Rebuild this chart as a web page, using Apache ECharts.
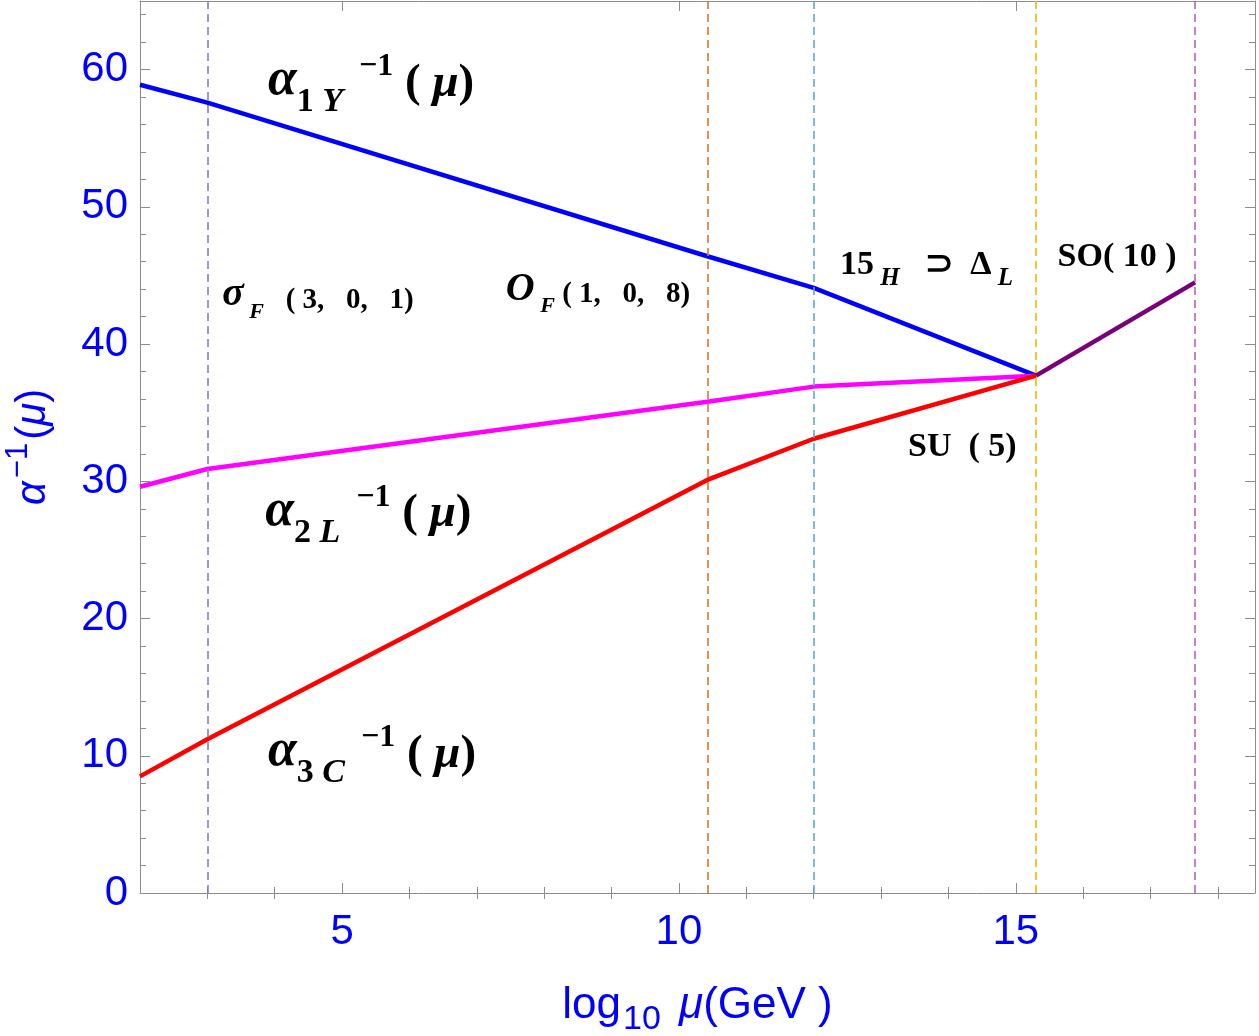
<!DOCTYPE html>
<html>
<head>
<meta charset="utf-8">
<script src="https://cdn.jsdelivr.net/npm/echarts@6/dist/echarts.min.js"></script>
<style>
  html, body { margin: 0; padding: 0; background: #fff; }
  #chart { width: 1259px; height: 1036px; }
</style>
</head>
<body>
<div id="chart"></div>
<script>
// log10(mu) break points where the running changes
const muBreaks = [2, 3, 10.42, 12, 15.3]
const alpha1Y = [58.9, 57.6, 46.4, 44.1, 37.7]
const alpha2L = [29.6, 30.9, 35.8, 36.9, 37.7]
const alpha3C = [8.5, 11.2, 30.1, 33.1, 37.7]
const so10Mu = [15.3, 17.66]
const so10 = [37.7, 44.5]
// intermediate scales (dashed lines)
const thresholds = [3, 10.42, 12, 15.3, 17.66]
const thresholdColors = ['#8a7cc0', '#d9772a', '#5fa8dc', '#f5b400', '#b665b6']

const xMajor = [5, 10, 15]
const xMinor = [3, 4, 6, 7, 8, 9, 11, 12, 13, 14, 16, 17, 18]
const yMajor = [0, 10, 20, 30, 40, 50, 60]
const yMinor = [2, 4, 6, 8, 12, 14, 16, 18, 22, 24, 26, 28, 32, 34, 36, 38, 42, 44, 46, 48, 52, 54, 56, 58, 62, 64]

const annotations = [
    { text: '{a|α}{sn|1}{si| Y}{sup|  −1}{p| (}{mu| μ}{p|)}', at: [3.9, 58.3] },
    { text: '{a|α}{sn|2}{si| L}{sup|  −1}{p| (}{mu| μ}{p|)}', at: [3.86, 26.9] },
    { text: '{a|α}{sn|3}{si| C}{sup|  −1}{p| (}{mu| μ}{p|)}', at: [3.9, 9.4] },
    { text: '{sa|σ}{ssi| F}{sp|   ( 3,   0,   1)}', at: [3.22, 43.0] },
    { text: '{sa|O}{ssi| F}{sp| ( 1,   0,   8)}', at: [7.43, 43.4] },
    { text: '{mp|15}{msi| H}{mp|   ⊃  Δ}{msi| L}', at: [12.39, 45.1] },
    { text: '{mp|SO( 10 )}', at: [15.62, 45.7] },
    { text: '{mp|SU  ( 5)}', at: [13.4, 31.8] }
]

const pair = (xs, ys) => xs.map((x, i) => [x, ys[i]])

const serif = 'Liberation Serif'
const sans = 'Liberation Sans'
const blue = '#0000ff'
const frame = '#8c8c8c'

function tok(size, pad, italic) {
    return {
        fontFamily: serif, fontSize: size, fontWeight: 'bold', fontStyle: italic ? 'italic' : 'normal',
        color: '#000', lineHeight: size, padding: [0, 0, pad, 0], verticalAlign: 'bottom'
    }
}

const richLabels = {
    a: tok(52, 12, true),
    p: tok(47, 12, false),
    mu: tok(47, 12, true),
    sn: tok(34, 0, false),
    si: tok(34, 0, true),
    sup: tok(32, 36, false),
    sa: tok(40, 8, true),
    sp: tok(29, 8, false),
    ssi: tok(22, 0, true),
    mp: tok(34, 9, false),
    msi: tok(25, 0, true)
}

const xMin = 2, xMax = 18.55, yMin = 0, yMax = 65

function xAxisOf(pos, ticks, len, opts) {
    return Object.assign({
        type: 'value', position: pos, min: xMin, max: xMax,
        axisLine: { show: false },
        axisTick: { show: true, inside: true, length: len, customValues: ticks, lineStyle: { color: frame, width: 1 } },
        axisLabel: { show: false },
        splitLine: { show: false }
    }, opts || {})
}
function yAxisOf(pos, ticks, len, opts) {
    return Object.assign({
        type: 'value', position: pos, min: yMin, max: yMax,
        axisLine: { show: false },
        axisTick: { show: true, inside: true, length: len, customValues: ticks, lineStyle: { color: frame, width: 1 } },
        axisLabel: { show: false },
        splitLine: { show: false }
    }, opts || {})
}

const chart = echarts.init(document.getElementById('chart'))

const option = {
    animation: false,
    backgroundColor: '#fff',
    grid: { left: 140, right: 4, top: 1, bottom: 143, containLabel: false, outerBoundsMode: 'none' },
    xAxis: [
        xAxisOf('bottom', xMajor, 10, {
            axisLine: { show: true, onZero: false, lineStyle: { color: frame, width: 1 } },
            axisLabel: { show: true, customValues: xMajor, color: blue, fontFamily: sans, fontSize: 42, margin: 18 },
            name: '{n|log}{sub|10}{n| }{i|μ}{n|(GeV )}',
            nameLocation: 'middle',
            nameGap: 100,
            nameTextStyle: {
                rich: {
                    n: { fontFamily: sans, fontSize: 44, color: blue, lineHeight: 44, padding: [0, 0, 9, 0], verticalAlign: 'bottom' },
                    i: { fontFamily: sans, fontSize: 44, fontStyle: 'italic', color: blue, lineHeight: 44, padding: [0, 0, 9, 0], verticalAlign: 'bottom' },
                    sub: { fontFamily: sans, fontSize: 34, color: blue, lineHeight: 34, padding: [0, 6, 0, 2], verticalAlign: 'bottom' }
                }
            }
        }),
        xAxisOf('bottom', xMinor, 6),
        xAxisOf('top', xMajor, 10, { axisLine: { show: true, onZero: false, lineStyle: { color: frame, width: 1 } } }),
        xAxisOf('top', xMinor, 6)
    ],
    yAxis: [
        yAxisOf('left', yMajor, 10, {
            axisLine: { show: true, onZero: false, lineStyle: { color: frame, width: 1 } },
            axisLabel: { show: true, customValues: yMajor, color: blue, fontFamily: sans, fontSize: 42, margin: 12 },
            name: '{i|α}{sup|−1}{n|(}{i|μ}{n|)}',
            nameLocation: 'middle',
            nameGap: 86,
            nameTextStyle: {
                rich: {
                    n: { fontFamily: sans, fontSize: 42, color: blue, lineHeight: 42, padding: [0, 0, 0, 0], verticalAlign: 'bottom' },
                    i: { fontFamily: sans, fontSize: 42, fontStyle: 'italic', color: blue, lineHeight: 42, padding: [0, 0, 0, 0], verticalAlign: 'bottom' },
                    sup: { fontFamily: sans, fontSize: 31, color: blue, lineHeight: 31, padding: [0, 3, 20, 3], verticalAlign: 'bottom' }
                }
            }
        }),
        yAxisOf('left', yMinor, 6),
        yAxisOf('right', yMajor, 10, { axisLine: { show: true, onZero: false, lineStyle: { color: frame, width: 1 } } }),
        yAxisOf('right', yMinor, 6)
    ],
    series: [
        {
            name: 'thresholds', type: 'line', data: [], silent: true,
            markLine: {
                symbol: 'none', silent: true, animation: false,
                label: { show: false },
                data: thresholds.map((t, i) => ({
                    xAxis: t,
                    lineStyle: { color: thresholdColors[i], type: [8, 5], width: 1.6 }
                }))
            }
        },
        { name: 'alpha1Y', type: 'line', data: pair(muBreaks, alpha1Y), showSymbol: false, lineStyle: { color: '#0000ff', width: 4.5 }, z: 3 },
        { name: 'alpha2L', type: 'line', data: pair(muBreaks, alpha2L), showSymbol: false, lineStyle: { color: '#ff00ff', width: 4.5 }, z: 3 },
        { name: 'alpha3C', type: 'line', data: pair(muBreaks, alpha3C), showSymbol: false, lineStyle: { color: '#ff0000', width: 4.5 }, z: 4 },
        { name: 'SO10', type: 'line', data: pair(so10Mu, so10), showSymbol: false, lineStyle: { color: '#7a007a', width: 4.5 }, z: 4 },
        {
            name: 'labels', type: 'scatter', symbolSize: 0, silent: true, z: 5,
            itemStyle: { opacity: 1 },
            data: annotations.map(a => ({ value: a.at, label: { formatter: a.text } })),
            label: { show: true, position: 'right', distance: 0, color: '#000', rich: richLabels }
        }
    ]
}

chart.setOption(option)
</script>
</body>
</html>
